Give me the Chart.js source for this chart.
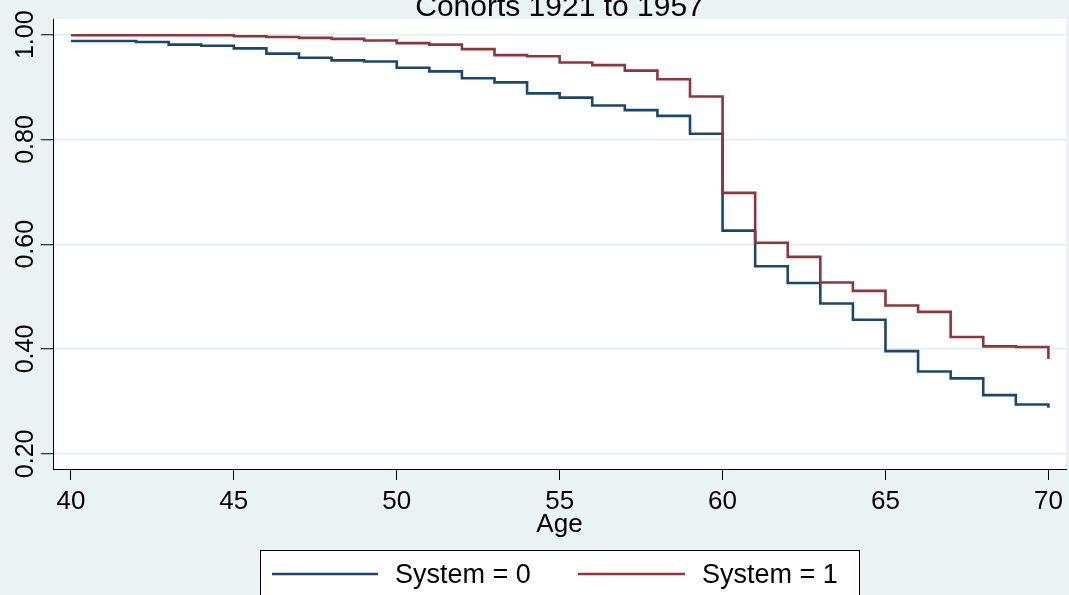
<!DOCTYPE html>
<html>
<head>
<meta charset="utf-8">
<script src="https://cdn.jsdelivr.net/npm/chart.js@4.4.0/dist/chart.umd.min.js"></script>
<style>
    html, body { margin: 0; padding: 0; background: #EAF2F3; }
    #wrap { width: 1069px; height: 595px; position: relative; }
</style>
</head>
<body>
<div id="wrap"><canvas id="kmChart" width="1069" height="595"></canvas></div>
<script>
// Data (Kaplan-Meier survival, step value starting at each age)
const ages = [40, 41, 42, 43, 44, 45, 46, 47, 48, 49, 50, 51, 52, 53, 54, 55, 56, 57, 58, 59, 60, 61, 62, 63, 64, 65, 66, 67, 68, 69, 70];
const system0 = [0.988, 0.988, 0.986, 0.981, 0.979, 0.974, 0.964, 0.956, 0.951, 0.949, 0.937, 0.930, 0.917, 0.909, 0.888, 0.880, 0.865, 0.856, 0.845, 0.811, 0.626, 0.558, 0.526, 0.487, 0.456, 0.396, 0.357, 0.344, 0.312, 0.294, 0.288];
const system1 = [0.999, 0.999, 0.999, 0.999, 0.999, 0.997, 0.9955, 0.994, 0.992, 0.989, 0.984, 0.981, 0.9725, 0.961, 0.959, 0.947, 0.942, 0.9315, 0.915, 0.882, 0.698, 0.603, 0.576, 0.527, 0.511, 0.483, 0.471, 0.423, 0.405, 0.404, 0.381];
const seriesLabels = ['System = 0', 'System = 1'];
const xTicks = [40, 45, 50, 55, 60, 65, 70];
const yTicks = [0.2, 0.4, 0.6, 0.8, 1.0];
const yTickLabels = ['0.20', '0.40', '0.60', '0.80', '1.00'];
const chartTitle = 'Cohorts 1921 to 1957';
const xTitle = 'Age';

const BG = '#EAF2F3';
const BLUE = '#1A476F';
const RED = '#90353B';
const FONT = "'Liberation Sans', Arial, sans-serif";

function toPoints(vals) {
    return ages.map((a, i) => ({ x: a, y: vals[i] }));
}

// fond + zone blanche du graphe
const backgroundPlugin = {
    id: 'bg',
    beforeDraw(chart) {
        const { ctx, chartArea } = chart;
        ctx.save();
        ctx.fillStyle = BG;
        ctx.fillRect(0, 0, chart.width, chart.height);
        ctx.fillStyle = '#FFFFFF';
        ctx.fillRect(chartArea.left, chartArea.top, chartArea.right - chartArea.left, chartArea.bottom - chartArea.top);
        ctx.restore();
    }
};

// titre, labels Y tournés, légende encadrée
const decorPlugin = {
    id: 'decor',
    afterDraw(chart) {
        const { ctx, chartArea } = chart;
        const yScale = chart.scales.y;
        ctx.save();
        ctx.fillStyle = '#000000';

        // titre (coupé en haut comme l'original)
        ctx.font = `30px ${FONT}`;
        ctx.textAlign = 'center';
        ctx.textBaseline = 'alphabetic';
        ctx.fillText(chartTitle, (chartArea.left + chartArea.right) / 2, 16);

        // labels de l'axe Y, verticaux
        ctx.font = `25px ${FONT}`;
        yTicks.forEach((v, i) => {
            const py = yScale.getPixelForValue(v);
            ctx.save();
            ctx.translate(33, py);
            ctx.rotate(-Math.PI / 2);
            ctx.textAlign = 'center';
            ctx.textBaseline = 'alphabetic';
            ctx.fillText(yTickLabels[i], 0, 0);
            ctx.restore();
        });

        // légende
        const boxX = 260, boxY = 550, boxW = 599, boxH = 60;
        ctx.fillStyle = '#FFFFFF';
        ctx.fillRect(boxX, boxY, boxW, boxH);
        ctx.strokeStyle = '#000000';
        ctx.lineWidth = 1;
        ctx.strokeRect(boxX + 0.5, boxY + 0.5, boxW, boxH);

        const items = [
            { x1: 272, x2: 378, tx: 395 },
            { x1: 578, x2: 685, tx: 702 }
        ];
        ctx.font = `27px ${FONT}`;
        ctx.textAlign = 'left';
        items.forEach((it, i) => {
            const ds = chart.data.datasets[i];
            ctx.strokeStyle = ds.borderColor;
            ctx.lineWidth = 2.5;
            ctx.beginPath();
            ctx.moveTo(it.x1, 574);
            ctx.lineTo(it.x2, 574);
            ctx.stroke();
            ctx.fillStyle = '#000000';
            ctx.fillText(ds.label, it.tx, 583);
        });
        ctx.restore();
    }
};

const ctx = document.getElementById('kmChart').getContext('2d');
const kmChart = new Chart(ctx, {
    type: 'line',
    data: {
        datasets: [
            {
                label: seriesLabels[0],
                data: toPoints(system0),
                borderColor: BLUE,
                borderWidth: 2.6,
                pointRadius: 0,
                stepped: 'before',
                order: 1
            },
            {
                label: seriesLabels[1],
                data: toPoints(system1),
                borderColor: RED,
                borderWidth: 2.6,
                pointRadius: 0,
                stepped: 'before',
                order: 0
            }
        ]
    },
    options: {
        responsive: false,
        animation: false,
        devicePixelRatio: 1,
        layout: { padding: { top: 19, left: 0, right: 3, bottom: 55 } },
        plugins: {
            legend: { display: false },
            tooltip: { enabled: false },
            title: { display: false }
        },
        scales: {
            x: {
                type: 'linear',
                min: 39.45,
                max: 70.54,
                afterBuildTicks: (scale) => { scale.ticks = xTicks.map(v => ({ value: v })); },
                afterFit: (scale) => { scale.height = 71; },
                grid: {
                    display: true,
                    drawOnChartArea: false,
                    drawTicks: true,
                    tickLength: 11,
                    tickColor: '#000000',
                    tickWidth: 1
                },
                border: { display: true, color: '#000000', width: 1 },
                ticks: {
                    font: { family: FONT, size: 26 },
                    color: '#000000',
                    padding: 6,
                    maxRotation: 0,
                    autoSkip: false
                },
                title: {
                    display: true,
                    text: xTitle,
                    color: '#000000',
                    font: { family: FONT, size: 26 },
                    padding: { top: 0, bottom: 0 }
                }
            },
            y: {
                min: 0.171,
                max: 1.030,
                afterBuildTicks: (scale) => { scale.ticks = yTicks.map(v => ({ value: v })); },
                afterFit: (scale) => { scale.width = 53; },
                grid: {
                    color: '#E3EDF0',
                    lineWidth: 1.5,
                    drawTicks: true,
                    tickLength: 12,
                    tickColor: '#000000',
                    tickWidth: 1
                },
                border: { display: true, color: '#000000', width: 1 },
                ticks: { display: false }
            }
        }
    },
    plugins: [backgroundPlugin, decorPlugin]
});
</script>
</body>
</html>
